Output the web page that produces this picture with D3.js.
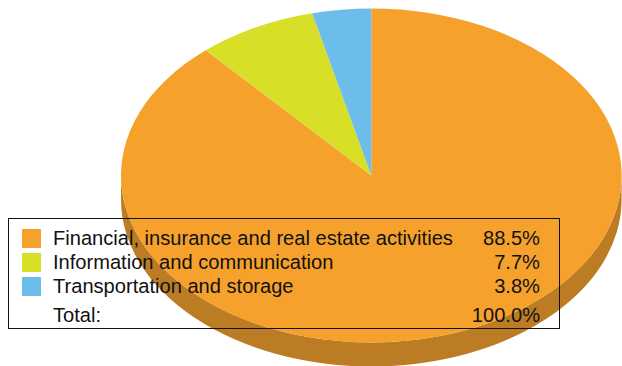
<!DOCTYPE html>
<html><head><meta charset="utf-8">
<script src="https://cdn.jsdelivr.net/npm/d3@7"></script>
<style>html,body{margin:0;padding:0;background:#fff}svg{display:block}</style>
</head><body>
<svg id="c" width="622" height="366"></svg>
<script>
const categories = ["Financial, insurance and real estate activities","Information and communication","Transportation and storage"];
const values = [88.5,7.7,3.8];
const valueLabels = ["88.5%","7.7%","3.8%"];
const totalLabel = "Total:";
const totalValue = "100.0%";
const colors = ["#F5A12C","#D7DF27","#6CBDE9"];
const sideColor = "#BC7C23";
const svg = d3.select("#c");
const cx=371.3, cy=175.5, rx=250.3, ry=167, depth=24;
const pie = d3.pie().sort(null).value(d=>d.v);
const arcs = pie(values.map((v,i)=>({v,i})));
const arc = d3.arc().innerRadius(0).outerRadius(rx);
const side = `M${cx-rx},${cy}A${rx},${ry} 0 0 0 ${cx+rx},${cy}L${cx+rx},${cy+depth}A${rx},${ry} 0 0 1 ${cx-rx},${cy+depth}Z`;
svg.append("path").attr("d",side).attr("fill",sideColor);
svg.append("g").attr("transform",`translate(${cx},${cy}) scale(1,${ry/rx})`)
  .selectAll("path").data(arcs).join("path")
  .attr("d",arc).attr("fill",d=>colors[d.data.i]);
const font="'Liberation Sans',Arial,sans-serif", fs=20.1, ink="#111";
const y = d3.scaleOrdinal().domain(d3.range(categories.length)).range([238.5,262.5,286.5]);
svg.append("rect").attr("x",8.5).attr("y",218.5).attr("width",551).attr("height",110)
  .attr("fill","none").attr("stroke","#111").attr("stroke-width",1);
svg.selectAll("rect.sw").data(categories).join("rect").attr("class","sw")
  .attr("x",22).attr("width",19).attr("height",19).attr("y",(d,i)=>y(i)-9.5)
  .attr("fill",(d,i)=>colors[i]);
const text=(t,x,yy,anchor)=>svg.append("text").attr("x",x).attr("y",yy).attr("text-anchor",anchor)
  .attr("font-family",font).attr("font-size",fs).attr("fill",ink).text(t);
categories.forEach((c,i)=>{ text(c,53,y(i)+6.5,"start"); text(valueLabels[i],540,y(i)+6.5,"end"); });
text(totalLabel,53,321.5,"start"); text(totalValue,540,321.5,"end");
</script>
</body></html>
